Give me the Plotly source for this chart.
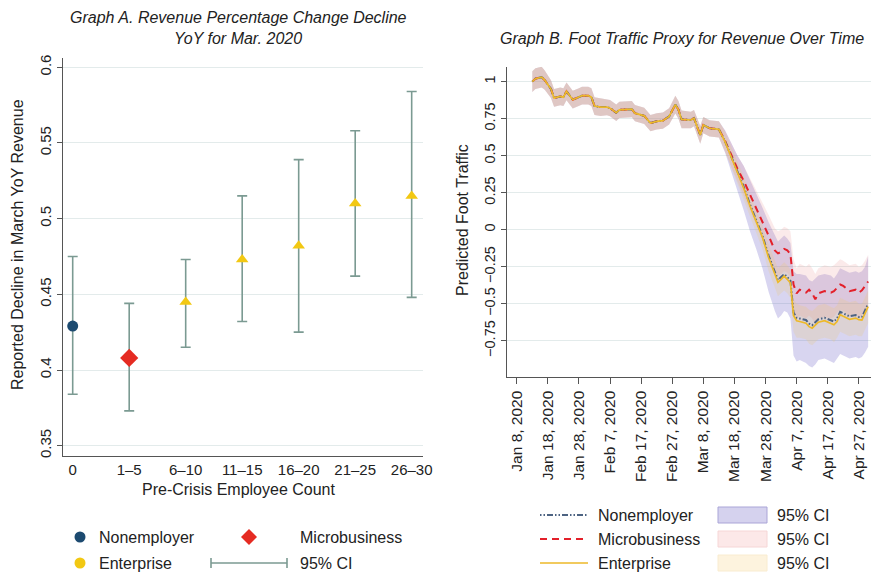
import plotly.graph_objects as go

W, H = 874, 572

# ---------------- Graph A data ----------------
emp_categories = ["0", "1–5", "6–10", "11–15", "16–20", "21–25", "26–30"]
nonemp_x = [0]
nonemp_est = [0.429]
nonemp_lo = [0.384]
nonemp_hi = [0.475]
micro_x = [1]
micro_est = [0.408]
micro_lo = [0.373]
micro_hi = [0.444]
ent_x = [2, 3, 4, 5, 6]
ent_est = [0.445, 0.473, 0.482, 0.510, 0.515]
ent_lo = [0.415, 0.432, 0.425, 0.462, 0.448]
ent_hi = [0.473, 0.515, 0.539, 0.558, 0.584]
a_yticks = [0.35, 0.4, 0.45, 0.5, 0.55, 0.6]
a_yticktext = ["0.35", "0.4", "0.45", "0.5", "0.55", "0.6"]

# ---------------- Graph B data ----------------
pre_dates = ["2020-01-13", "2020-01-14", "2020-01-16", "2020-01-17", "2020-01-19", "2020-01-20",
             "2020-01-22", "2020-01-23", "2020-01-24", "2020-01-26", "2020-01-28", "2020-01-29",
             "2020-01-31", "2020-02-01", "2020-02-02", "2020-02-04", "2020-02-06", "2020-02-07",
             "2020-02-09", "2020-02-10", "2020-02-14", "2020-02-15", "2020-02-18", "2020-02-20",
             "2020-02-22", "2020-02-24", "2020-02-26", "2020-02-28", "2020-02-29", "2020-03-01",
             "2020-03-04", "2020-03-05", "2020-03-07", "2020-03-08", "2020-03-10", "2020-03-13"]
pre_value = [1.00, 1.02, 1.03, 1.01, 0.95, 0.89, 0.90, 0.895, 0.935, 0.878, 0.896, 0.905,
             0.905, 0.895, 0.835, 0.828, 0.828, 0.821, 0.79, 0.81, 0.814, 0.787, 0.769, 0.72,
             0.732, 0.737, 0.765, 0.845, 0.81, 0.745, 0.741, 0.753, 0.64, 0.707, 0.685, 0.678]
pre_ci_half = [0.07, 0.07, 0.07, 0.065, 0.06, 0.06, 0.06, 0.06, 0.06, 0.06, 0.06, 0.06,
               0.06, 0.06, 0.06, 0.06, 0.055, 0.055, 0.055, 0.055, 0.055, 0.055, 0.055, 0.055,
               0.055, 0.055, 0.055, 0.06, 0.06, 0.06, 0.055, 0.055, 0.06, 0.055, 0.055, 0.055]

post_dates = ["2020-03-15", "2020-03-17", "2020-03-19", "2020-03-21", "2020-03-23", "2020-03-25",
              "2020-03-27", "2020-03-29", "2020-03-31", "2020-04-01", "2020-04-02", "2020-04-03",
              "2020-04-04", "2020-04-05", "2020-04-06", "2020-04-07", "2020-04-08", "2020-04-10",
              "2020-04-11", "2020-04-12", "2020-04-13", "2020-04-14", "2020-04-16", "2020-04-18",
              "2020-04-19", "2020-04-20", "2020-04-21", "2020-04-22", "2020-04-24", "2020-04-26",
              "2020-04-27", "2020-04-28", "2020-04-29", "2020-04-30"]

nonemp_post = [0.595, 0.495, 0.385, 0.29, 0.17, 0.07, -0.04, -0.175, -0.285, -0.34, -0.32, -0.30,
               -0.32, -0.345, -0.56, -0.595, -0.60, -0.61, -0.635, -0.645, -0.625, -0.605, -0.595,
               -0.61, -0.62, -0.60, -0.555, -0.565, -0.585, -0.577, -0.59, -0.59, -0.55, -0.50]
nonemp_post_lo = [0.52, 0.40, 0.26, 0.13, -0.01, -0.13, -0.26, -0.42, -0.55, -0.60, -0.58, -0.55,
                  -0.56, -0.60, -0.85, -0.89, -0.88, -0.90, -0.92, -0.93, -0.91, -0.88, -0.87,
                  -0.89, -0.90, -0.87, -0.84, -0.85, -0.87, -0.86, -0.87, -0.86, -0.83, -0.79]
nonemp_post_hi = [0.67, 0.58, 0.50, 0.43, 0.34, 0.25, 0.15, 0.05, -0.04, -0.08, -0.06, -0.04,
                  -0.06, -0.09, -0.28, -0.30, -0.30, -0.31, -0.34, -0.35, -0.33, -0.31, -0.30,
                  -0.31, -0.33, -0.30, -0.26, -0.27, -0.29, -0.28, -0.29, -0.28, -0.25, -0.18]

micro_post = [0.60, 0.50, 0.41, 0.33, 0.24, 0.15, 0.06, -0.04, -0.14, -0.16, -0.15, -0.13,
              -0.14, -0.165, -0.37, -0.43, -0.405, -0.425, -0.405, -0.43, -0.47, -0.43, -0.415,
              -0.425, -0.415, -0.39, -0.37, -0.38, -0.415, -0.405, -0.425, -0.41, -0.38, -0.35]
micro_post_lo = [0.53, 0.42, 0.32, 0.23, 0.13, 0.03, -0.07, -0.18, -0.29, -0.31, -0.30, -0.28,
                 -0.29, -0.32, -0.54, -0.60, -0.58, -0.60, -0.58, -0.60, -0.64, -0.60, -0.59,
                 -0.60, -0.59, -0.56, -0.54, -0.55, -0.59, -0.58, -0.60, -0.58, -0.55, -0.52]
micro_post_hi = [0.67, 0.58, 0.50, 0.43, 0.35, 0.27, 0.19, 0.10, 0.01, -0.01, 0.00, 0.02,
                 0.01, -0.01, -0.20, -0.26, -0.23, -0.25, -0.23, -0.26, -0.30, -0.26, -0.24,
                 -0.25, -0.24, -0.22, -0.20, -0.21, -0.24, -0.23, -0.25, -0.24, -0.21, -0.17]

ent_post = [0.593, 0.49, 0.38, 0.28, 0.16, 0.06, -0.05, -0.19, -0.30, -0.355, -0.335, -0.313,
            -0.335, -0.36, -0.58, -0.615, -0.62, -0.632, -0.655, -0.665, -0.645, -0.625, -0.615,
            -0.63, -0.642, -0.62, -0.574, -0.585, -0.605, -0.597, -0.608, -0.61, -0.57, -0.52]
ent_post_lo = [0.53, 0.42, 0.30, 0.20, 0.08, -0.02, -0.13, -0.28, -0.39, -0.45, -0.43, -0.41,
               -0.43, -0.46, -0.69, -0.73, -0.73, -0.74, -0.77, -0.78, -0.76, -0.74, -0.73,
               -0.74, -0.76, -0.73, -0.69, -0.70, -0.72, -0.71, -0.72, -0.72, -0.68, -0.63]
ent_post_hi = [0.66, 0.56, 0.46, 0.36, 0.24, 0.14, 0.03, -0.10, -0.21, -0.26, -0.24, -0.22,
               -0.24, -0.27, -0.47, -0.50, -0.51, -0.52, -0.54, -0.55, -0.53, -0.51, -0.50,
               -0.52, -0.53, -0.51, -0.46, -0.47, -0.49, -0.48, -0.50, -0.50, -0.46, -0.41]

b_yticks = [1, 0.75, 0.5, 0.25, 0, -0.25, -0.5, -0.75]
b_yticktext = ["1", "0.75", "0.5", "0.25", "0", "\u22120.25", "\u22120.5", "\u22120.75"]

# ---------------- styling ----------------
FONT = "Liberation Sans, Arial, Helvetica, sans-serif"
INK = "#222222"
AXIS = "#555555"
GRID = "#e3ebeb"
CI_GREEN = "#7b9a92"
NAVY = "#1c4a70"
RED = "#e52b22"
GOLD = "#f2c813"

C_NONEMP_LINE = "#4d6382"
C_MICRO_LINE = "#e3202a"
C_ENT_LINE = "#edb929"
F_NONEMP = "rgba(110,100,200,0.27)"
F_MICRO = "rgba(235,140,140,0.18)"
F_ENT = "rgba(240,200,100,0.20)"


def px(x):
    return x / W


def py(y):
    return 1 - y / H


fig = go.Figure()

# ---- Graph A ----
def add_a(xs, est, lo, hi, symbol, size, color):
    fig.add_trace(go.Scatter(
        x=xs, y=est, mode="markers",
        marker=dict(symbol=symbol, size=size, color=color, line=dict(width=0)),
        error_y=dict(type="data", symmetric=False,
                     array=[h - e for h, e in zip(hi, est)],
                     arrayminus=[e - l for e, l in zip(est, lo)],
                     color=CI_GREEN, thickness=1.6, width=5),
        xaxis="x", yaxis="y", showlegend=False, hoverinfo="skip"))


add_a(nonemp_x, nonemp_est, nonemp_lo, nonemp_hi, "circle", 11, NAVY)
add_a(micro_x, micro_est, micro_lo, micro_hi, "diamond", 14, RED)
add_a(ent_x, ent_est, ent_lo, ent_hi, "triangle-up", 11, GOLD)

# ---- Graph B ----
all_dates = pre_dates + post_dates


def band(values_lo, values_hi, fill):
    fig.add_trace(go.Scatter(
        x=all_dates + all_dates[::-1], y=values_hi + values_lo[::-1],
        fill="toself", fillcolor=fill, line=dict(width=0), mode="lines",
        xaxis="x2", yaxis="y2", showlegend=False, hoverinfo="skip"))


pre_lo = [v - h for v, h in zip(pre_value, pre_ci_half)]
pre_hi = [v + h for v, h in zip(pre_value, pre_ci_half)]

band(pre_lo + nonemp_post_lo, pre_hi + nonemp_post_hi, F_NONEMP)
band(pre_lo + micro_post_lo, pre_hi + micro_post_hi, F_MICRO)
band(pre_lo + ent_post_lo, pre_hi + ent_post_hi, F_ENT)

fig.add_trace(go.Scatter(x=all_dates, y=pre_value + micro_post, mode="lines",
                         line=dict(color=C_MICRO_LINE, width=2, dash="7px,5px"),
                         xaxis="x2", yaxis="y2", showlegend=False, hoverinfo="skip"))
fig.add_trace(go.Scatter(x=all_dates, y=pre_value + nonemp_post, mode="lines",
                         line=dict(color=C_NONEMP_LINE, width=2, dash="1.5px,2px,1.5px,2px,6px,2px"),
                         xaxis="x2", yaxis="y2", showlegend=False, hoverinfo="skip"))
fig.add_trace(go.Scatter(x=all_dates, y=pre_value + ent_post, mode="lines",
                         line=dict(color=C_ENT_LINE, width=1.7),
                         xaxis="x2", yaxis="y2", showlegend=False, hoverinfo="skip"))

fig.update_layout(
    width=W, height=H, autosize=False,
    margin=dict(l=0, r=0, t=0, b=0, pad=0),
    paper_bgcolor="white", plot_bgcolor="white",
    font=dict(family=FONT, color=INK),
    xaxis=dict(domain=[px(62.7), px(422.7)], range=[-0.177, 6.195], automargin=False,
               tickmode="array", tickvals=list(range(len(emp_categories))), ticktext=emp_categories,
               ticks="", showline=True, linecolor=AXIS, linewidth=1.3, showgrid=False,
               zeroline=False, tickfont=dict(family=FONT, size=15, color=INK), fixedrange=True),
    yaxis=dict(domain=[py(455.7), py(58.3)], range=[0.3434, 0.6059], automargin=False,
               tickmode="array", tickvals=a_yticks, ticktext=a_yticktext, tickangle=-90,
               ticks="outside", ticklen=5, tickcolor=AXIS, showline=True, linecolor=AXIS,
               linewidth=1.3, showgrid=True, gridcolor=GRID, zeroline=False,
               tickfont=dict(family=FONT, size=15, color=INK)),
    xaxis2=dict(domain=[px(507.3), px(871)], range=["2020-01-04 23:00", "2020-04-30 22:00"],
                automargin=False,
                type="date", tick0="2020-01-08", dtick=864000000, tickformat="%b %-d, %Y",
                tickangle=-90, ticks="outside", ticklen=6, tickcolor=AXIS, showline=True,
                linecolor=AXIS, linewidth=1.3, showgrid=False, zeroline=False,
                tickfont=dict(family=FONT, size=15.5, color=INK), anchor="y2"),
    yaxis2=dict(domain=[py(377.3), py(66.7)], range=[-0.997, 1.101], automargin=False,
                tickmode="array", tickvals=b_yticks, ticktext=b_yticktext, tickangle=-90,
                ticks="outside", ticklen=5, tickcolor=AXIS, showline=True, linecolor=AXIS,
                linewidth=1.3, showgrid=True, gridcolor=GRID, zeroline=False,
                tickfont=dict(family=FONT, size=14.5, color=INK), anchor="x2"),
)

ann = []
shapes = []


def text(x, y, s, size=16, xanchor="center", italic=False, angle=0):
    ann.append(dict(x=px(x), y=py(y), xref="paper", yref="paper", text=s, showarrow=False,
                    xanchor=xanchor, yanchor="middle", textangle=angle,
                    font=dict(family=FONT, size=size, color=INK,
                              style="italic" if italic else "normal")))


# titles
text(238, 18, "Graph A. Revenue Percentage Change Decline", 16, italic=True)
text(238, 38, "YoY for Mar. 2020", 16, italic=True)
text(682, 38, "Graph B. Foot Traffic Proxy for Revenue Over Time", 16, italic=True)
# axis titles
text(239, 489, "Pre-Crisis Employee Count", 16)
text(17, 245, "Reported Decline in March YoY Revenue", 16, angle=-90)
text(463, 220, "Predicted Foot Traffic", 16, angle=-90)

# ---- left legend ----
def circle(cx, cy, r, color):
    shapes.append(dict(type="circle", xref="paper", yref="paper",
                       x0=px(cx - r), x1=px(cx + r), y0=py(cy + r), y1=py(cy - r),
                       fillcolor=color, line=dict(width=0)))


circle(80, 537, 5.5, NAVY)
text(97, 537, "Nonemployer", 16, xanchor="left")
shapes.append(dict(type="path", xref="paper", yref="paper",
                   path="M {},{} L {},{} L {},{} L {},{} Z".format(
                       px(249), py(529), px(257), py(537), px(249), py(545), px(241), py(537)),
                   fillcolor=RED, line=dict(width=0)))
text(298, 537, "Microbusiness", 16, xanchor="left")
circle(80, 563, 5.5, GOLD)
text(97, 563, "Enterprise", 16, xanchor="left")
shapes.append(dict(type="line", xref="paper", yref="paper", x0=px(211), x1=px(287),
                   y0=py(563), y1=py(563), line=dict(color=CI_GREEN, width=1.6)))
for xx in (211, 287):
    shapes.append(dict(type="line", xref="paper", yref="paper", x0=px(xx), x1=px(xx),
                       y0=py(558), y1=py(568), line=dict(color=CI_GREEN, width=1.6)))
text(298, 563, "95% CI", 16, xanchor="left")

# ---- right legend ----
leg_rows = [
    (515, "Nonemployer", C_NONEMP_LINE, "1.5px,2px,1.5px,2px,6px,2px", 2,
     "rgba(213,210,238,1)", "rgba(170,165,215,1)"),
    (539, "Microbusiness", C_MICRO_LINE, "7px,5px", 2,
     "rgba(252,232,232,1)", "rgba(246,214,214,1)"),
    (563, "Enterprise", C_ENT_LINE, "solid", 1.7,
     "rgba(253,243,222,1)", "rgba(249,236,208,1)"),
]
for yy, label, col, dash, wdt, fill, border in leg_rows:
    shapes.append(dict(type="line", xref="paper", yref="paper", x0=px(540), x1=px(588),
                       y0=py(yy), y1=py(yy), line=dict(color=col, width=wdt, dash=dash)))
    text(596, yy, label, 16, xanchor="left")
    shapes.append(dict(type="rect", xref="paper", yref="paper", x0=px(718), x1=px(767),
                       y0=py(yy + 8), y1=py(yy - 8), fillcolor=fill,
                       line=dict(color=border, width=1)))
    text(775, yy, "95% CI", 16, xanchor="left")

fig.update_layout(annotations=ann, shapes=shapes)

post_js = (
    "document.documentElement.style.margin='0';"
    "document.documentElement.style.overflow='hidden';"
    "document.body.style.margin='0';"
    "document.body.style.overflow='hidden';"
    "var gd=document.getElementsByClassName('plotly-graph-div')[0];"
    "gd.style.position='fixed';gd.style.top='0px';gd.style.left='0px';"
)

fig.write_html("out.html", config={"displayModeBar": False}, post_script=post_js)
